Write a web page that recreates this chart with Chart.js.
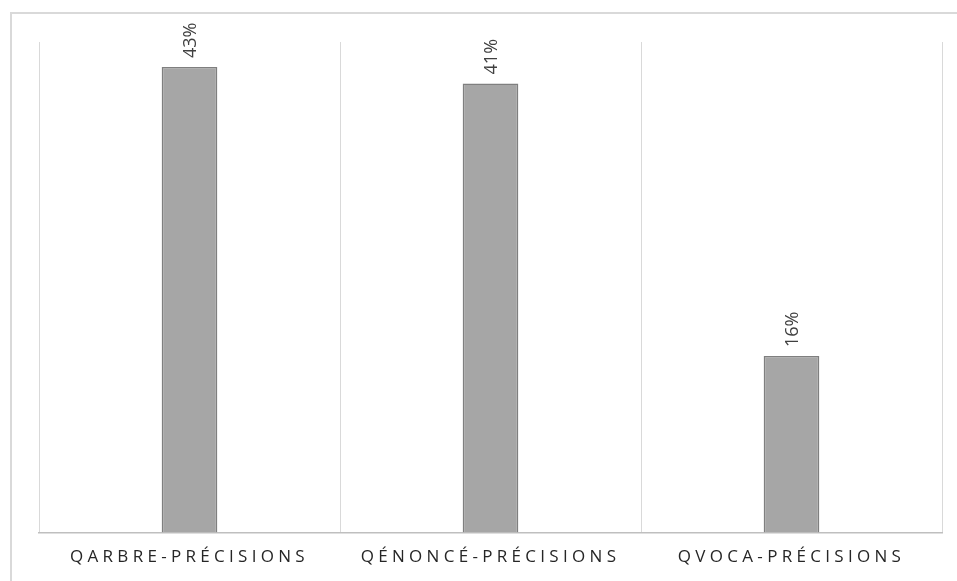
<!DOCTYPE html>
<html>
<head>
<meta charset="utf-8">
<script src="https://cdn.jsdelivr.net/npm/chart.js@4"></script>
<style>
  html, body { margin: 0; padding: 0; background: #fff; }
  #frame { position: absolute; left: 10px; top: 12px; right: 0; bottom: 0; border-top: 2px solid #d9d9d9; border-left: 2px solid #d9d9d9; }
  #wrap { position: absolute; left: 0; top: 0; width: 957px; height: 581px; }
</style>
</head>
<body>
<div id="frame"></div>
<div id="wrap"><canvas id="chart"></canvas></div>
<script>
const categories = ['QARBRE-PRÉCISIONS', 'QÉNONCÉ-PRÉCISIONS', 'QVOCA-PRÉCISIONS'];
const values = [42.7, 41.2, 16.2];
const valueLabels = ['43%', '41%', '16%'];

// letter spacing for the category labels
const spacingPlugin = {
    id: 'spacing',
    beforeDraw(chart) { chart.ctx.letterSpacing = '4.3px'; },
    afterDatasetsDraw(chart) { chart.ctx.letterSpacing = '0px'; }
};

// rotated value labels above the bars
const barLabels = {
    id: 'barLabels',
    afterDatasetsDraw(chart) {
        const ctx = chart.ctx;
        const meta = chart.getDatasetMeta(0);
        ctx.save();
        ctx.letterSpacing = '0px';
        ctx.font = '18px "Open Sans"';
        ctx.fillStyle = '#404040';
        ctx.textAlign = 'left';
        ctx.textBaseline = 'middle';
        meta.data.forEach((bar, i) => {
            ctx.save();
            ctx.translate(bar.x + 1, bar.y - 9);
            ctx.rotate(-Math.PI / 2);
            ctx.fillText(valueLabels[i], 0, 0);
            ctx.restore();
        });
        ctx.restore();
    }
};

new Chart(document.getElementById('chart'), {
    type: 'bar',
    data: {
        labels: categories,
        datasets: [{
            data: values,
            backgroundColor: '#a6a6a6',
            borderColor: '#7f7f7f',
            borderWidth: 1.5,
            categoryPercentage: 1,
            barPercentage: 0.185,
        }]
    },
    options: {
        responsive: true, maintainAspectRatio: false,
        animation: false,
        layout: { padding: { left: 39, right: 15, top: 42, bottom: 0 } },
        plugins: { legend: { display: false }, tooltip: { enabled: false } },
        scales: {
            x: {
                grid: { color: '#d9d9d9', offset: true, drawTicks: false },
                border: { color: '#bfbfbf', width: 1.5 },
                ticks: { font: { family: 'Open Sans', size: 17 }, color: '#262626', padding: 14, maxRotation: 0 }
            },
            y: { display: false, min: 0, max: 45 }
        }
    },
    plugins: [spacingPlugin, barLabels]
});
</script>
</body>
</html>
